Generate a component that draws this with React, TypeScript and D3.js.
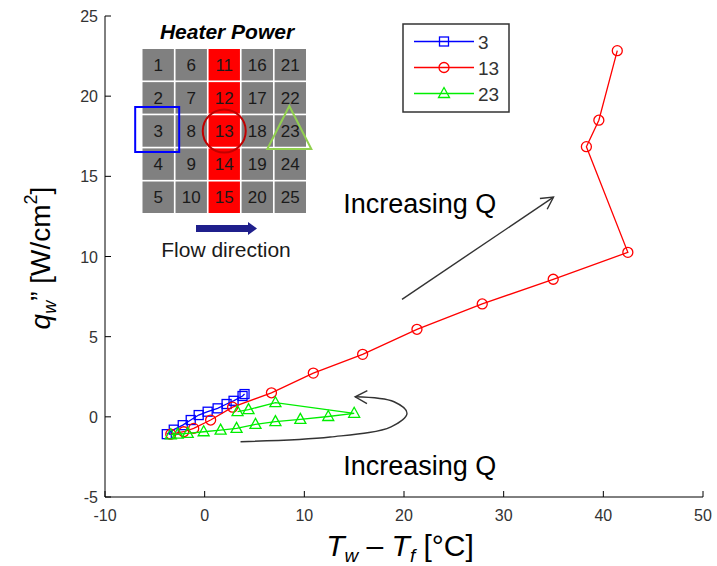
import React from "react";
import * as d3 from "d3";

// ---------- data ----------
const xTicks = [-10, 0, 10, 20, 30, 40, 50];
const yTicks = [-5, 0, 5, 10, 15, 20, 25];

const s3X = [-3.8, -3.1, -2.2, -1.4, -0.6, 0.3, 1.3, 2.2, 2.9, 3.8, 4.0];
const s3Y = [-1.08, -0.8, -0.52, -0.2, 0.11, 0.32, 0.53, 0.8, 1.0, 1.3, 1.42];

const s13X = [-3.4, -2.1, -1.1, 0.6, 2.8, 6.7, 10.9, 15.85, 21.3, 27.85, 34.97, 42.46, 38.3, 39.55, 41.4];
const s13Y = [-1.08, -0.93, -0.72, -0.2, 0.6, 1.5, 2.73, 3.9, 5.46, 7.04, 8.58, 10.26, 16.85, 18.5, 22.84];

const s23X = [-3.4, -2.7, -1.7, -0.1, 1.6, 3.2, 5.1, 7.1, 9.6, 12.4, 15.0, 7.1, 4.4, 3.3];
const s23Y = [-1.12, -1.08, -1.03, -0.93, -0.83, -0.72, -0.47, -0.3, -0.16, 0.02, 0.22, 0.88, 0.45, 0.32];

const legendLabels = ["3", "13", "23"];

const heaterGrid = [
  [1, 6, 11, 16, 21],
  [2, 7, 12, 17, 22],
  [3, 8, 13, 18, 23],
  [4, 9, 14, 19, 24],
  [5, 10, 15, 20, 25],
];
const heatedIds = [11, 12, 13, 14, 15];

// annotation anchors (data coordinates)
const upArrowX = [19.8, 35.0];
const upArrowY = [7.33, 13.7];
const curveX = [3.6, 12.6, 18.7, 20.3, 19.0, 15.1];
const curveY = [-1.55, -1.26, -0.62, 0.22, 0.94, 1.25];
const annoText = "Increasing Q";
const annoTextX = [13.9, 13.9];
const annoTextY = [12.7, -3.6];

const FONT = "'Liberation Sans', Arial, sans-serif";

export default function App() {
  const W = 717, H = 566;
  const x = d3.scaleLinear().domain([-10, 50]).range([105, 703]);
  const y = d3.scaleLinear().domain([-5, 25]).range([497, 16]);

  const series = [
    { xs: s3X, ys: s3Y, color: "#0000ff", marker: "square" },
    { xs: s13X, ys: s13Y, color: "#ff0000", marker: "circle" },
    { xs: s23X, ys: s23Y, color: "#00ee00", marker: "triangle" },
  ];

  const line = d3.line<[number, number]>().x((d) => x(d[0])).y((d) => y(d[1]));

  const marker = (type: string, cx: number, cy: number, color: string, key: any) => {
    if (type === "square")
      return <rect key={key} x={cx - 4.5} y={cy - 4.5} width={9} height={9} fill="none" stroke={color} strokeWidth={1.3} />;
    if (type === "circle")
      return <circle key={key} cx={cx} cy={cy} r={5} fill="none" stroke={color} strokeWidth={1.3} />;
    return (
      <path key={key} d={`M${cx},${cy - 6}L${cx + 5.5},${cy + 4}L${cx - 5.5},${cy + 4}Z`} fill="none" stroke={color} strokeWidth={1.3} />
    );
  };

  // inset grid scales
  const gx = d3.scaleBand<number>().domain([0, 1, 2, 3, 4]).range([142.5, 306]).paddingInner(0.05);
  const gy = d3.scaleBand<number>().domain([0, 1, 2, 3, 4]).range([49, 213]).paddingInner(0.05);

  const cellCenter = (id: number) => {
    for (let r = 0; r < heaterGrid.length; r++) {
      const c = heaterGrid[r].indexOf(id);
      if (c >= 0) return [gx(c)! + gx.bandwidth() / 2, gy(r)! + gy.bandwidth() / 2];
    }
    return [0, 0];
  };
  const c3 = cellCenter(3), c13 = cellCenter(13), c23 = cellCenter(23);

  const curvePts: [number, number][] = curveX.map((v, i) => [v, curveY[i]]);
  const curvePath = d3.line<[number, number]>().x((d) => x(d[0])).y((d) => y(d[1])).curve(d3.curveCatmullRom.alpha(0.5))(curvePts)!;

  return (
    <svg width={W} height={H} style={{ position: "absolute", left: 0, top: 0, background: "#fff" }} fontFamily={FONT}>
      <defs>
        <marker id="openArrow" viewBox="-14 -8 16 16" refX={0} refY={0} markerWidth={16} markerHeight={16} markerUnits="userSpaceOnUse" orient="auto">
          <path d="M-12,-6.5L0,0L-12,6.5" fill="none" stroke="#333" strokeWidth={1.4} />
        </marker>
      </defs>

      {/* axes */}
      <line x1={x(-10)} x2={x(50)} y1={y(-5)} y2={y(-5)} stroke="#000" strokeWidth={1} />
      <line x1={x(-10)} x2={x(-10)} y1={y(-5)} y2={y(25)} stroke="#000" strokeWidth={1} />
      {xTicks.map((t) => (
        <g key={"xt" + t}>
          <line x1={x(t)} x2={x(t)} y1={y(-5)} y2={y(-5) - 6} stroke="#000" />
          <text x={x(t)} y={521} textAnchor="middle" fontSize={16} fill="#333">{t}</text>
        </g>
      ))}
      {yTicks.map((t) => (
        <g key={"yt" + t}>
          <line x1={x(-10)} x2={x(-10) + 6} y1={y(t)} y2={y(t)} stroke="#000" />
          <text x={98} y={y(t) + 6} textAnchor="end" fontSize={16} fill="#333">{t}</text>
        </g>
      ))}

      {/* axis labels */}
      <text x={400} y={556} textAnchor="middle" fontSize={30} fill="#000">
        <tspan fontStyle="italic">T</tspan>
        <tspan fontStyle="italic" fontSize={19} dy={6}>w</tspan>
        <tspan dy={-6}> – </tspan>
        <tspan fontStyle="italic">T</tspan>
        <tspan fontStyle="italic" fontSize={19} dy={6}>f</tspan>
        <tspan dy={-6}> [°C]</tspan>
      </text>
      <text x={50} y={258} transform="rotate(-90,50,258)" textAnchor="middle" fontSize={28} fill="#000">
        <tspan fontStyle="italic">q</tspan>
        <tspan fontStyle="italic" fontSize={18} dy={6}>w</tspan>
        <tspan dy={-6}>”  [W/cm</tspan>
        <tspan fontSize={18} dy={-13}>2</tspan>
        <tspan dy={13}>]</tspan>
      </text>

      {/* series */}
      {series.map((s, si) => {
        const pts: [number, number][] = s.xs.map((v, i) => [v, s.ys[i]]);
        return (
          <g key={"s" + si}>
            <path d={line(pts)!} fill="none" stroke={s.color} strokeWidth={1.3} />
            {pts.map((p, i) => marker(s.marker, x(p[0]), y(p[1]), s.color, i))}
          </g>
        );
      })}

      {/* legend */}
      <rect x={403} y={24} width={106} height={88} fill="#fff" stroke="#333" strokeWidth={1.5} />
      {legendLabels.map((lab, i) => {
        const ly = 41.5 + i * 26;
        const s = series[i];
        return (
          <g key={"lg" + i}>
            <line x1={414} x2={474} y1={ly} y2={ly} stroke={s.color} strokeWidth={1.3} />
            {marker(s.marker, 444, ly, s.color, "m")}
            <text x={478} y={ly + 7} fontSize={19} fill="#333">{lab}</text>
          </g>
        );
      })}

      {/* annotations */}
      <line x1={x(upArrowX[0])} y1={y(upArrowY[0])} x2={x(upArrowX[1])} y2={y(upArrowY[1])} stroke="#333" strokeWidth={1.4} markerEnd="url(#openArrow)" />
      <path d={curvePath} fill="none" stroke="#333" strokeWidth={1.4} markerEnd="url(#openArrow)" />
      {annoTextX.map((tx, i) => (
        <text key={"an" + i} x={x(tx)} y={y(annoTextY[i])} fontSize={27} fill="#000">{annoText}</text>
      ))}

      {/* inset */}
      <text x={227} y={39} textAnchor="middle" fontSize={21} fontWeight="bold" fontStyle="italic" fill="#000">Heater Power</text>
      {heaterGrid.map((row, r) =>
        row.map((id, c) => (
          <g key={"c" + id}>
            <rect x={gx(c)} y={gy(r)} width={gx.bandwidth()} height={gy.bandwidth()} fill={heatedIds.includes(id) ? "#ff0000" : "#808080"} />
            <text x={gx(c)! + gx.bandwidth() / 2} y={gy(r)! + gy.bandwidth() / 2 + 6} textAnchor="middle" fontSize={17} fill="#1a1a1a">{id}</text>
          </g>
        ))
      )}
      <rect x={c3[0] - 23} y={c3[1] - 24} width={44} height={45} fill="none" stroke="#0000ff" strokeWidth={2} />
      <circle cx={c13[0]} cy={c13[1]} r={21.5} fill="none" stroke="#c00000" strokeWidth={2} />
      <path d={`M${c23[0] - 1},${c23[1] - 25}L${c23[0] + 21},${c23[1] + 18}L${c23[0] - 23},${c23[1] + 18}Z`} fill="none" stroke="#92d050" strokeWidth={2} />
      <path d="M196,225L248,225L248,222L257,228.5L248,235L248,232L196,232Z" fill="#1f1f8c" />
      <text x={226} y={257} textAnchor="middle" fontSize={21} fill="#1a1a1a">Flow direction</text>
    </svg>
  );
}
